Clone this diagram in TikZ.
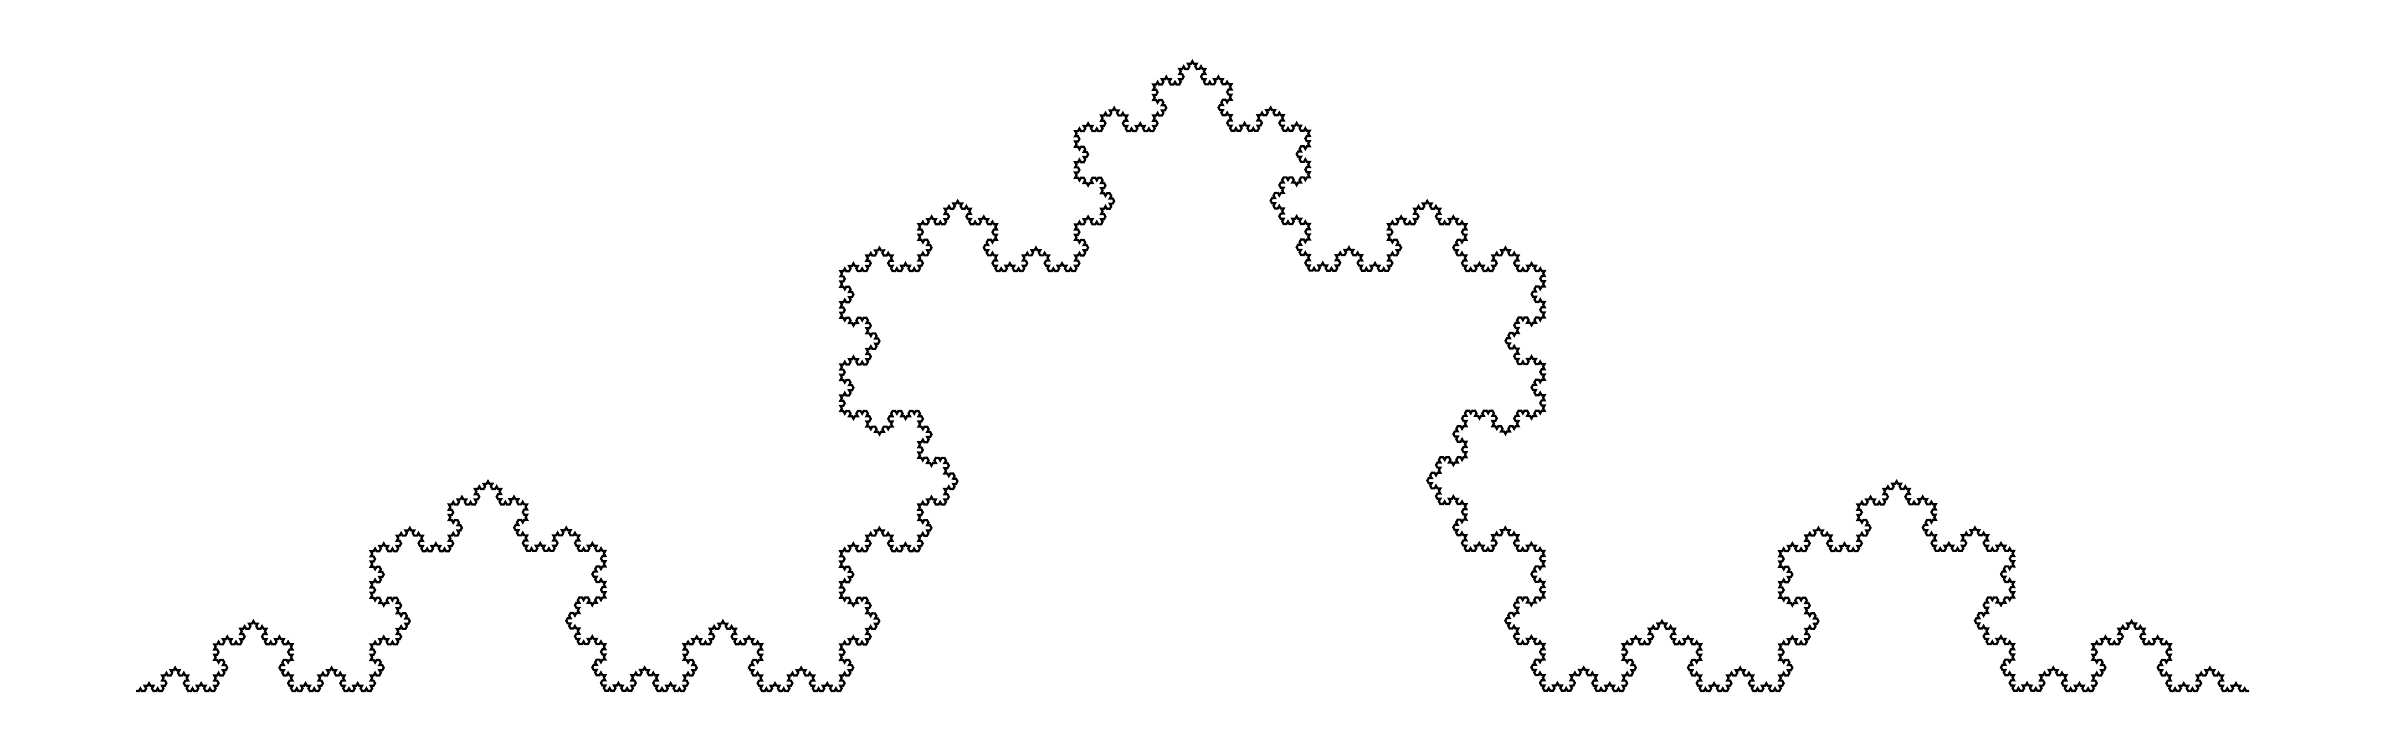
\documentclass[tikz,border=0pt]{standalone}
\usetikzlibrary{decorations.fractals}
\tikzstyle{koch} = [draw, line width=.6pt, decoration=Koch snowflake]

\begin{document}
\begin{tikzpicture}
    \useasboundingbox (0,-.62) rectangle (23.85,6.91);
    \coordinate (a) at (1.36,0);
    \coordinate (b) at (22.49,0);
    \begin{scope}[transform canvas={yscale=1.033}]
    \draw[koch] decorate{decorate{decorate{decorate{decorate{decorate{ (a) -- (b) }}}}}};
    \end{scope}
\end{tikzpicture}
\end{document}
